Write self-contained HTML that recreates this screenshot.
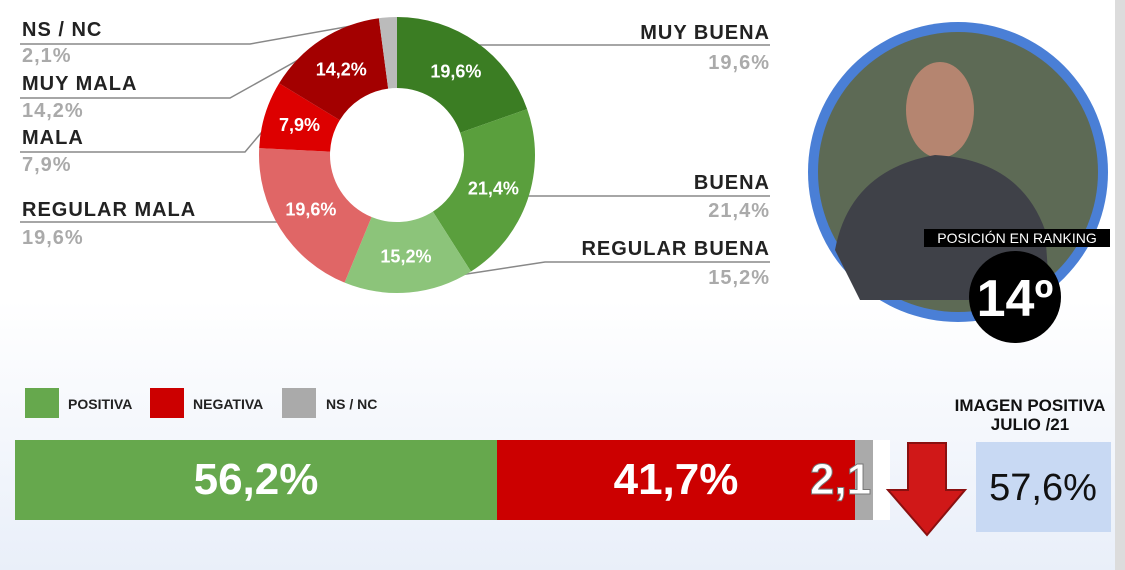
<!DOCTYPE html><html><head><style>
body{margin:0;width:1125px;height:570px;overflow:hidden;background:linear-gradient(#fff 0,#fff 300px,#e9eff9 570px);font-family:"Liberation Sans",sans-serif;position:relative}
.a{position:absolute;font-weight:bold;font-size:20px;color:#222;line-height:22px;letter-spacing:1px}
.g{color:#aaa}
.lg{position:absolute;top:388px;width:34px;height:30px}
.lt{position:absolute;top:396px;font-size:14px;font-weight:bold;color:#222}
</style></head><body>
<div style="position:absolute;right:0;top:0;width:10px;height:570px;background:#dcdcdc"></div>
<svg width="1125" height="570" style="position:absolute;left:0;top:0" id="s">
<g stroke="#888" stroke-width="1.5" fill="none">
<polyline points="20,44 250,44 385,20"/>
<polyline points="20,98 230,98 325,45"/>
<polyline points="20,152 245,152 272,120"/>
<polyline points="20,222 288,222"/>
<polyline points="472,45 770,45"/>
<polyline points="520,196 770,196"/>
<polyline points="408,283 545,262 770,262"/>
</g>
<g id="d"></g>
<circle cx="958" cy="172" r="150" fill="#4a7fd6"/>
<circle cx="958" cy="172" r="140" fill="#5d6a55"/>
<ellipse cx="940" cy="110" rx="34" ry="48" fill="#b58570"/>
<path d="M835,250 Q850,170 935,155 Q1020,160 1045,230 L1050,300 L860,300 Z" fill="#3f4148"/>
<rect x="924" y="229" width="186" height="18" fill="#000"/>
<text x="1017" y="243" fill="#fff" font-size="14" text-anchor="middle">POSICIÓN EN RANKING</text>
<circle cx="1015" cy="297" r="46" fill="#000"/>
<text x="1015" y="316" fill="#fff" font-size="52" font-weight="bold" text-anchor="middle">14º</text>
<rect x="15" y="440" width="482" height="80" fill="#66a84d"/>
<rect x="497" y="440" width="358" height="80" fill="#cc0000"/>
<rect x="855" y="440" width="18" height="80" fill="#aaa"/>
<text x="256" y="494" fill="#fff" font-size="44" font-weight="bold" text-anchor="middle">56,2%</text>
<text x="676" y="494" fill="#fff" font-size="44" font-weight="bold" text-anchor="middle">41,7%</text>
<text x="810" y="494" fill="#fff" font-size="44" font-weight="bold" stroke="#777" stroke-width="1">2,1</text>
<rect x="873" y="440" width="17" height="80" fill="#fff"/>
<path d="M908,443 L946,443 L946,490 L965,490 L927,535 L888,490 L908,490 Z" fill="#d01818" stroke="#8a1010" stroke-width="2"/>
<rect x="976" y="442" width="135" height="90" fill="#c8d9f3"/>
<text x="1043" y="500" fill="#111" font-size="38" text-anchor="middle">57,6%</text>
<text x="1030" y="411" fill="#111" font-size="17" font-weight="bold" text-anchor="middle">IMAGEN POSITIVA</text>
<text x="1030" y="430" fill="#111" font-size="17" font-weight="bold" text-anchor="middle">JULIO /21</text>
</svg>
<div class="a" style="left:22px;top:19px">NS / NC</div><div class="a g" style="left:22px;top:45px">2,1%</div>
<div class="a" style="left:22px;top:73px">MUY MALA</div><div class="a g" style="left:22px;top:100px">14,2%</div>
<div class="a" style="left:22px;top:127px">MALA</div><div class="a g" style="left:22px;top:154px">7,9%</div>
<div class="a" style="left:22px;top:199px">REGULAR MALA</div><div class="a g" style="left:22px;top:227px">19,6%</div>
<div class="a" style="right:355px;top:22px">MUY BUENA</div><div class="a g" style="right:355px;top:52px">19,6%</div>
<div class="a" style="right:355px;top:172px">BUENA</div><div class="a g" style="right:355px;top:200px">21,4%</div>
<div class="a" style="right:355px;top:238px">REGULAR BUENA</div><div class="a g" style="right:355px;top:267px">15,2%</div>
<div class="lg" style="left:25px;background:#66a84d"></div><div class="lt" style="left:68px">POSITIVA</div>
<div class="lg" style="left:150px;background:#cc0000"></div><div class="lt" style="left:193px">NEGATIVA</div>
<div class="lg" style="left:282px;background:#aaa"></div><div class="lt" style="left:326px">NS / NC</div>
<script>
var d=[[19.6,"#3b7d23"],[21.4,"#5a9f3d"],[15.2,"#8cc47a"],[19.6,"#e06666"],[7.9,"#dd0000"],[14.2,"#a30000"],[2.1,"#bbbbbb"]];
var cx=397,cy=155,R=138,r=67,a=0,h="";
function p(rad,ang){var t=(ang*3.6-90)*Math.PI/180;return [cx+rad*Math.cos(t),cy+rad*Math.sin(t)];}
d.forEach(function(s){var b=a+s[0],l=s[0]>50?1:0,o1=p(R,a),o2=p(R,b),i2=p(r,b),i1=p(r,a);
h+='<path fill="'+s[1]+'" d="M'+o1+'A'+R+','+R+' 0 '+l+' 1 '+o2+'L'+i2+'A'+r+','+r+' 0 '+l+' 0 '+i1+'Z"/>';
if(s[0]>5){var m=p(102,(a+b)/2);h+='<text x="'+m[0]+'" y="'+(m[1]+6)+'" fill="#fff" font-size="18" font-weight="bold" text-anchor="middle">'+String(s[0]).replace(".",",")+'%</text>';}
a=b;});
document.getElementById("d").innerHTML=h;
</script>
</body></html>
